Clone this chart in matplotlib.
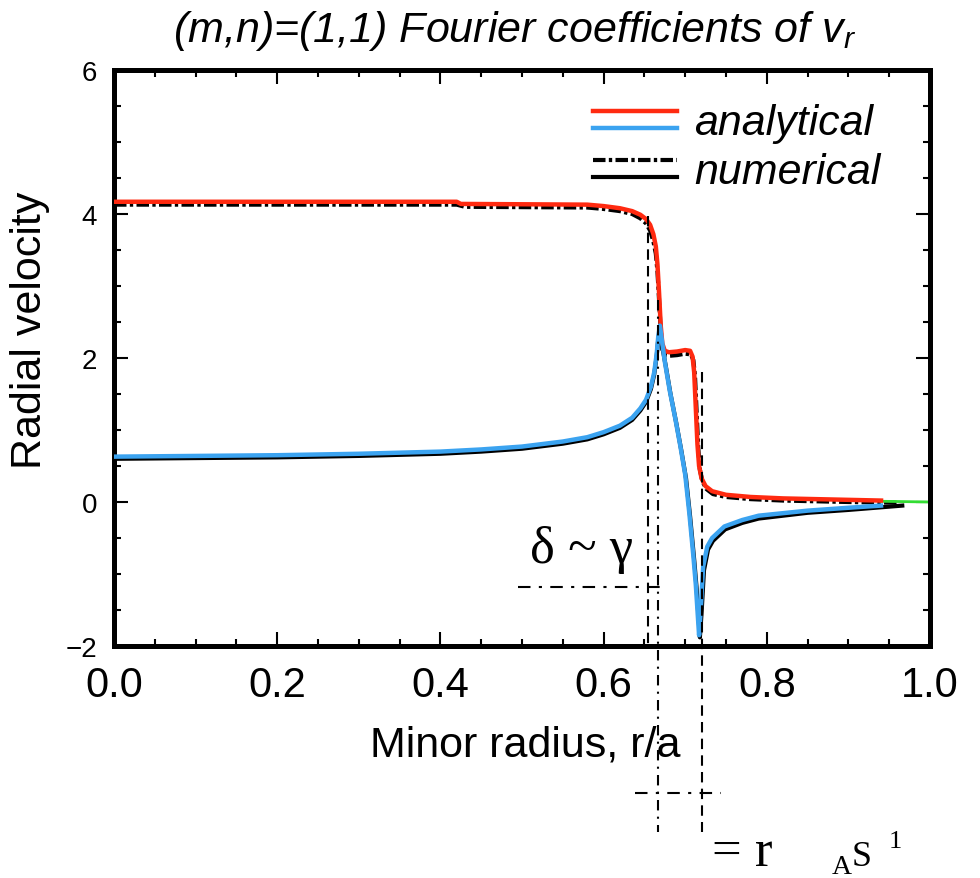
import matplotlib
matplotlib.use("Agg")
import matplotlib.pyplot as plt
from matplotlib.lines import Line2D
from matplotlib.legend_handler import HandlerBase
from matplotlib.ticker import MultipleLocator

plt.rcParams['font.family'] = ['Liberation Sans', 'DejaVu Sans']
plt.rcParams['mathtext.fontset'] = 'custom'
plt.rcParams['mathtext.it'] = 'Liberation Sans:italic'
plt.rcParams['mathtext.rm'] = 'Liberation Sans'

# ---------------- data ----------------
# analytical (red): radial velocity, one Fourier component
red_x = [0.0, 0.2, 0.42, 0.425, 0.58, 0.60, 0.62, 0.635, 0.645, 0.652, 0.657, 0.661,
         0.664, 0.666, 0.668, 0.670, 0.672, 0.675, 0.68, 0.69, 0.70, 0.706, 0.709,
         0.711, 0.713, 0.715, 0.717, 0.72, 0.725, 0.733, 0.75, 0.78, 0.82, 0.86, 0.90, 0.94]
red_y = [4.17, 4.17, 4.17, 4.14, 4.13, 4.11, 4.08, 4.04, 3.99, 3.93, 3.85, 3.72,
         3.55, 3.30, 2.90, 2.45, 2.20, 2.10, 2.08, 2.09, 2.11, 2.10, 2.02,
         1.80, 1.30, 0.80, 0.50, 0.33, 0.22, 0.15, 0.10, 0.07, 0.05, 0.04, 0.03, 0.02]

# analytical (blue): other Fourier component
blue_x = [0.0, 0.1, 0.2, 0.3, 0.4, 0.45, 0.5, 0.55, 0.58, 0.60, 0.62, 0.635, 0.645,
          0.652, 0.658, 0.662, 0.665, 0.667, 0.669, 0.672, 0.675, 0.681, 0.688, 0.694,
          0.700, 0.705, 0.710, 0.713, 0.715, 0.717, 0.719, 0.722, 0.727, 0.733, 0.748,
          0.77, 0.79, 0.85, 0.90, 0.94]
blue_y = [0.63, 0.64, 0.65, 0.67, 0.70, 0.73, 0.77, 0.84, 0.90, 0.97, 1.06, 1.17, 1.30,
          1.42, 1.60, 1.80, 2.05, 2.30, 2.45, 2.20, 1.95, 1.55, 1.15, 0.78,
          0.38, -0.15, -0.75, -1.15, -1.50, -1.85, -1.50, -0.90, -0.62, -0.50, -0.34,
          -0.25, -0.19, -0.12, -0.08, -0.05]

# numerical counterpart of red (black dash-dot)
num1_x = [0.0, 0.2, 0.42, 0.43, 0.58, 0.60, 0.62, 0.635, 0.645, 0.652, 0.657, 0.661,
          0.664, 0.666, 0.668, 0.670, 0.672, 0.676, 0.68, 0.69, 0.70, 0.707, 0.710,
          0.712, 0.714, 0.716, 0.718, 0.721, 0.726, 0.734, 0.75, 0.78, 0.82, 0.86, 0.90, 0.96]
num1_y = [4.13, 4.13, 4.13, 4.10, 4.09, 4.07, 4.04, 4.00, 3.94, 3.87, 3.77, 3.62,
          3.45, 3.20, 2.80, 2.38, 2.12, 2.04, 2.03, 2.04, 2.06, 2.05, 1.97,
          1.75, 1.25, 0.75, 0.45, 0.29, 0.18, 0.11, 0.07, 0.04, 0.02, 0.01, 0.0, -0.01]

# numerical counterpart of blue (black solid)
num2_x = [0.0, 0.1, 0.2, 0.3, 0.4, 0.45, 0.5, 0.55, 0.58, 0.60, 0.62, 0.635, 0.645,
          0.652, 0.658, 0.662, 0.665, 0.667, 0.669, 0.672, 0.676, 0.682, 0.689, 0.695,
          0.701, 0.706, 0.711, 0.714, 0.716, 0.718, 0.720, 0.723, 0.728, 0.734, 0.749,
          0.77, 0.79, 0.85, 0.90, 0.966]
num2_y = [0.60, 0.61, 0.62, 0.64, 0.67, 0.70, 0.74, 0.81, 0.87, 0.94, 1.03, 1.14, 1.27,
          1.39, 1.57, 1.77, 2.02, 2.26, 2.40, 2.15, 1.90, 1.50, 1.10, 0.73,
          0.33, -0.20, -0.80, -1.20, -1.55, -1.88, -1.55, -0.95, -0.66, -0.54, -0.38,
          -0.29, -0.23, -0.15, -0.11, -0.05]

# outer region (green)
green_x = [0.94, 1.0]
green_y = [0.01, 0.0]

xticks = [0.0, 0.2, 0.4, 0.6, 0.8, 1.0]
xtick_labels = ['0.0', '0.2', '0.4', '0.6', '0.8', '1.0']
yticks = [-2, 0, 2, 4, 6]
ytick_labels = ['\u22122', '0', '2', '4', '6']

# annotation markers (r/a and value coordinates)
x_left_dash = 0.654
x_res = 0.667
x_res2 = 0.7205

# ---------------- figure ----------------
W, H = 980, 879
fig = plt.figure(figsize=(W / 100, H / 100), dpi=100)
ax = fig.add_axes([114 / W, 1 - 647 / H, (930 - 114) / W, (647 - 71) / H])

RED = '#ff2a10'
BLUE = '#3ba3f0'
GREEN = '#33dd33'
DD = (3.0, 0.8, 0.8, 0.8)

l_n1, = ax.plot(num1_x, num1_y, color='black', lw=3.0, dashes=DD, zorder=2)
l_n2, = ax.plot(num2_x, num2_y, color='black', lw=3.0, zorder=2)
ax.plot(green_x, green_y, color=GREEN, lw=2.0, zorder=2)
l_r, = ax.plot(red_x, red_y, color=RED, lw=3.2, zorder=3)
l_b, = ax.plot(blue_x, blue_y, color=BLUE, lw=3.2, zorder=3)

ax.set_xlim(0, 1)
ax.set_ylim(-2, 6)
ax.set_xticks(xticks)
ax.set_xticklabels(xtick_labels)
ax.set_yticks(yticks)
ax.set_yticklabels(ytick_labels)
ax.xaxis.set_minor_locator(MultipleLocator(0.05))
ax.yaxis.set_minor_locator(MultipleLocator(0.5))
ax.tick_params(which='both', direction='in', top=True, right=True, width=1.5)
ax.tick_params(which='major', length=10)
ax.tick_params(which='minor', length=5)
ax.tick_params(axis='x', which='major', labelsize=30, pad=14)
ax.tick_params(axis='y', which='major', labelsize=20, pad=12)
for s in ax.spines.values():
    s.set_linewidth(3.6)

ax.set_xlabel('Minor radius, r/a', fontsize=31)
ax.xaxis.label.set_va('center')
ax.xaxis.set_label_coords((525 - 114) / 816, (647 - 745) / 576)
ax.set_ylabel('Radial velocity', fontsize=31)
yl = ax.yaxis.label
yl.set_rotation_mode('default')
yl.set_va('center')
yl.set_ha('center')
ax.yaxis.set_label_coords((30 - 114) / 816, (647 - 330) / 576)

fig.text(515 / W, 1 - 42 / H, '(m,n)=(1,1) Fourier coefficients of $v_r$',
         fontsize=31, style='italic', ha='center', va='baseline')


# legend with stacked line pairs
class StackHandler(HandlerBase):
    def create_artists(self, legend, orig_handle, xdescent, ydescent,
                       width, height, fontsize, trans):
        arts = []
        for i, h in enumerate(orig_handle):
            yy = height * (0.75 - 0.55 * i) - ydescent
            ln = Line2D([-xdescent, width - xdescent], [yy, yy])
            ln.update_from(h)
            ln.set_transform(trans)
            arts.append(ln)
        return arts


ax.legend([(l_r, l_b), (l_n1, l_n2)], ['analytical', 'numerical'],
          handler_map={tuple: StackHandler()},
          loc='upper left', bbox_to_anchor=(0.55, 0.995), frameon=False,
          prop={'size': 31, 'style': 'italic'}, handlelength=1.95,
          handletextpad=0.4, labelspacing=0.2, borderpad=0.2)

# annotation lines
kw = dict(color='black', lw=1.5, clip_on=False, zorder=4)
ax.plot([x_left_dash, x_left_dash], [3.97, -2.0], ls=(0, (5, 3)), **kw)
ax.plot([x_res, x_res], [2.8, -4.58], ls=(0, (5, 3, 1, 3)), **kw)
ax.plot([x_res2, x_res2], [1.8, -4.58], ls=(0, (5, 3)), **kw)
ax.plot([0.495, 0.679], [-1.18, -1.18], ls=(0, (6, 4, 1.5, 4)), **kw)
ax.plot([0.638, 0.744], [-4.04, -4.04], ls=(0, (6, 4, 1.5, 4)), **kw)

SERIF = ['Liberation Serif', 'DejaVu Serif']
fig.text(530 / W, 1 - 563 / H, '\u03b4 ~ \u03b3', fontsize=38, family=SERIF, va='baseline')
fig.text(712 / W, 1 - 866 / H, '= r', fontsize=38, family=SERIF, va='baseline')
fig.text(832 / W, 1 - 874 / H, 'A', fontsize=20, family=SERIF, va='baseline')
fig.text(852 / W, 1 - 866 / H, 'S', fontsize=26, family=SERIF, va='baseline')
fig.text(889 / W, 1 - 848 / H, '1', fontsize=19, family=SERIF, va='baseline')

fig.savefig('out.png', dpi=100)
